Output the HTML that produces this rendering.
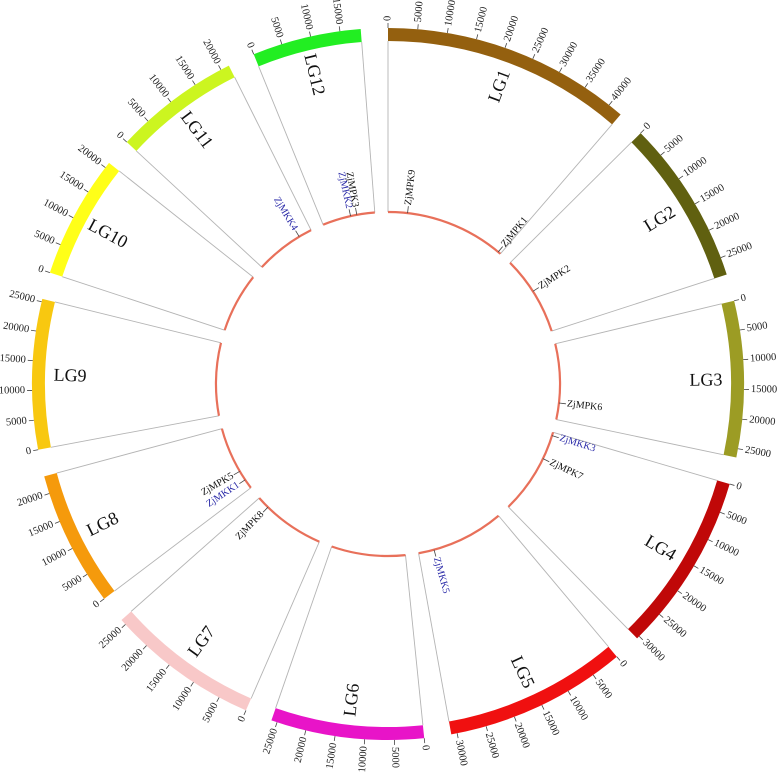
<!DOCTYPE html>
<html><head><meta charset="utf-8"><style>
html,body{margin:0;padding:0;background:#fff;}
svg{display:block;font-family:"Liberation Serif",serif;}
</style></head><body>
<svg id="chart" width="778" height="772" viewBox="0 0 778 772" xmlns="http://www.w3.org/2000/svg"></svg>
<script>
const chromNames = ["LG1","LG2","LG3","LG4","LG5","LG6","LG7","LG8","LG9","LG10","LG11","LG12"];
const chromLengths = [42500,28000,26500,30500,31000,26000,26000,23000,25500,21000,21500,18500];
const chromColors = ["#94600f","#606010","#9c9c24","#c00808","#f01010","#e814c8","#f8c8c8","#f59a0c","#f8c810","#ffff18","#ccf520","#22ee22"];
const geneNames = ["ZjMPK9","ZjMPK1","ZjMPK2","ZjMPK6","ZjMKK3","ZjMPK7","ZjMKK5","ZjMPK8","ZjMKK1","ZjMPK5","ZjMKK4","ZjMKK2","ZjMPK3"];
const geneChrom = [0,0,1,2,3,3,4,6,7,7,10,11,11];
const genePos = [6800,41500,12700,20700,1200,9800,25500,21600,3400,6900,16800,10000,12200];
const geneFamily = ["MPK","MPK","MPK","MPK","MKK","MPK","MKK","MPK","MKK","MPK","MKK","MKK","MPK"];
const tickStep = 5000;

const svg = document.getElementById('chart');
const NS = 'http://www.w3.org/2000/svg';
const cx = 388, cy = 384;
const rOut = 356, rBand = 343, rIn = 172;
const gapDeg = 4.4;
const total = chromLengths.reduce((a,b)=>a+b,0);
const degPerBp = (360 - gapDeg*chromLengths.length)/total;
const starts = [];
let acc = 0;
chromLengths.forEach((L)=>{starts.push(acc); acc += L*degPerBp + gapDeg;});
function ang(ci,bp){return starts[ci] + bp*degPerBp;}
function pt(r,a){const t=a*Math.PI/180;return [cx + r*Math.sin(t), cy - r*Math.cos(t)];}
function mk(tag,attrs,parent){const e=document.createElementNS(NS,tag);for(const k in attrs)e.setAttribute(k,attrs[k]);(parent||svg).appendChild(e);return e;}
function rotFor(a){a=((a%360)+360)%360; if(a<180) return {rot:a-90,anchor:'start'}; return {rot:a-270,anchor:'end'};}
function arcPath(r,a0,a1){const p0=pt(r,a0),p1=pt(r,a1);const large=(a1-a0)>180?1:0;return `M${p0[0]},${p0[1]} A${r},${r} 0 ${large} 1 ${p1[0]},${p1[1]}`;}

chromNames.forEach((name,i)=>{
  const a0 = ang(i,0), a1 = ang(i,chromLengths[i]);
  const g = mk('g',{});
  
  
  // connector lines
  [a0,a1].forEach((a,k)=>{
    const p=pt(rIn,a), q=pt(rBand,a);
    const l = mk('line',{x1:p[0],y1:p[1],x2:q[0],y2:q[1],stroke:'#b4b4b4','stroke-width':0.9},g);
    
    
  });
  // band
  const o0=pt(rOut,a0),o1=pt(rOut,a1),i0=pt(rBand,a0),i1=pt(rBand,a1);
  const large=(a1-a0)>180?1:0;
  const band = mk('path',{d:`M${o0[0]},${o0[1]} A${rOut},${rOut} 0 ${large} 1 ${o1[0]},${o1[1]} L${i1[0]},${i1[1]} A${rBand},${rBand} 0 ${large} 0 ${i0[0]},${i0[1]} Z`,fill:chromColors[i]},g);
  
  
  // inner arc
  const ia = mk('path',{d:arcPath(rIn,a0,a1),fill:'none',stroke:'#e8705a','stroke-width':2.2},g);
  
  
  // ticks
  for(let bp=0; bp<=chromLengths[i]; bp+=tickStep){
    const a=ang(i,bp);
    const p=pt(rOut,a), q=pt(rOut+5,a), t=pt(rOut+7,a);
    const tl = mk('line',{x1:p[0],y1:p[1],x2:q[0],y2:q[1],stroke:'#444','stroke-width':0.8},g);
    
    
    const rf=rotFor(a);
    const tx = mk('text',{x:t[0],y:t[1],'font-size':10.5,'text-anchor':rf.anchor,'dominant-baseline':'central',fill:'#222',transform:`rotate(${rf.rot} ${t[0]} ${t[1]})`},g);
    tx.textContent = String(bp);
    
    
  }
  // chromosome label
  const am=(a0+a1)/2, lp=pt(318,am), rf=rotFor(am);
  const lab = mk('text',{x:lp[0],y:lp[1],'font-size':18,'text-anchor':'middle','dominant-baseline':'central',fill:'#111',transform:`rotate(${rf.rot} ${lp[0]} ${lp[1]})`},g);
  lab.textContent = name;
  
  
});

geneNames.forEach((gn,j)=>{
  const a = ang(geneChrom[j], genePos[j]);
  const p=pt(rIn,a), q=pt(rIn+7,a), t=pt(rIn+8,a);
  const color = geneFamily[j]==='MKK' ? '#2a2aa8' : '#111';
  const l = mk('line',{x1:p[0],y1:p[1],x2:q[0],y2:q[1],stroke:'#444','stroke-width':0.8});
  
  
  const rf=rotFor(a);
  const tx = mk('text',{x:t[0],y:t[1],'font-size':10,'text-anchor':rf.anchor,'dominant-baseline':'central',fill:color,transform:`rotate(${rf.rot} ${t[0]} ${t[1]})`});
  tx.textContent = gn;
  
  
});
</script>
</body></html>
